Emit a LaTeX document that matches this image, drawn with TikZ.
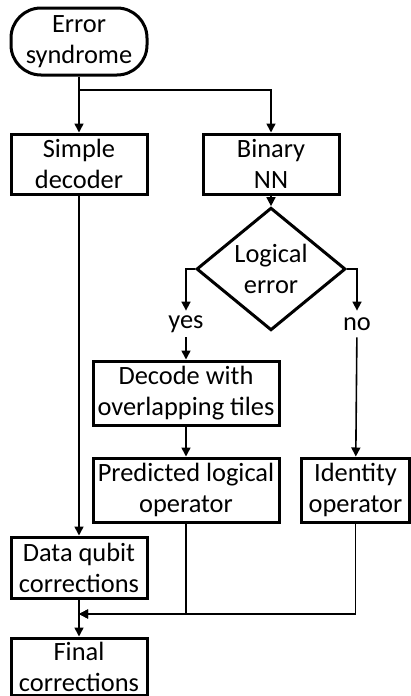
\documentclass[tikz,border=0pt]{standalone}
\usepackage{fontspec}
\setmainfont{Carlito}
\usetikzlibrary{shapes.geometric,arrows.meta}
\tikzset{
  block/.style={draw,line width=1.5pt,align=center,inner sep=0pt,minimum width=68pt,minimum height=30pt},
  link/.style={line width=0.8pt,-{Triangle[length=4.5pt,width=4.5pt]}},
}
\begin{document}
\begin{tikzpicture}[x=0.5pt,y=-0.5pt,font=\fontsize{13.2}{15.5}\selectfont]
        \useasboundingbox (0,0) rectangle (411,696);
        \node (syn) at (79,41.5) [block,rounded corners=15pt,minimum height=33.5pt]{Error\\syndrome};
        \node (simple) at (79,164) [block]{Simple\\decoder};
        \node (binary) at (271,164) [block]{Binary\\NN};
        \node (logic) at (271,269) [draw,diamond,line width=1.5pt,align=center,inner sep=0pt,minimum width=74.5pt,minimum height=52pt]{Logical\\error};
        \node (yes) at (186,324) [inner sep=0pt,minimum height=13pt]{yes};
        \node (no) at (357,324) [inner sep=0pt,minimum height=13pt]{no};
        \node (decode) at (186,393) [block,minimum width=93pt,minimum height=32pt]{Decode with\\overlapping tiles};
        \node (pred) at (186,490) [block,minimum width=93pt,minimum height=32pt]{Predicted logical\\operator};
        \node (ident) at (355.5,490) [block,minimum width=54pt,minimum height=32pt]{Identity\\operator};
        \node (data) at (79,567.5) [block,minimum height=30.5pt]{Data qubit\\corrections};
        \node (final) at (79,666.5) [block,minimum height=28.5pt]{Final\\corrections};
        \coordinate (fork) at (79,90);
        \coordinate (merge) at (79,614);

        \draw [link](syn) -- (simple);
        \draw [link](fork) -| (binary);
        \draw [link](binary) -- (logic);
        \draw [link](logic.west) -| (yes.north);
        \draw [link](logic.east) -| (no.north);
        \draw [link](yes) -- (decode);
        \draw [link](no) -- (ident);
        \draw [link](decode) -- (pred);
        \draw [link](simple) -- (data);
        \draw [link](data) -- (final);
        \draw [link](pred.south) |- (merge);
        \draw [link](ident.south) |- (merge);

    \end{tikzpicture}
\end{document}
